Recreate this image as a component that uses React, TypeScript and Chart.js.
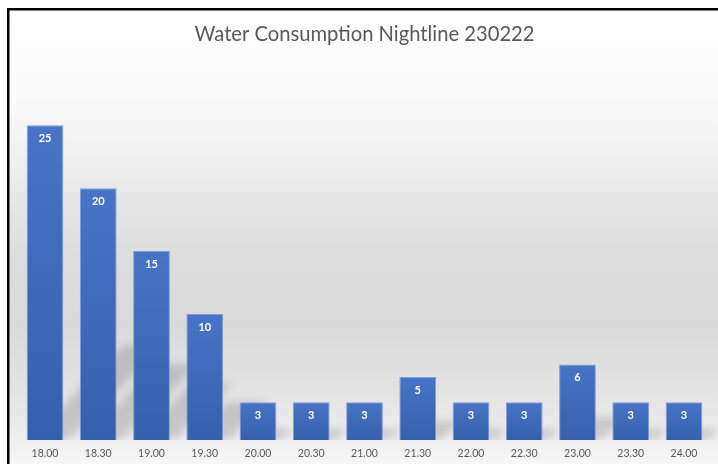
import React, { useEffect, useRef } from "react";
import { Chart, registerables } from "chart.js";

Chart.register(...registerables);

const categories = ["18.00", "18.30", "19.00", "19.30", "20.00", "20.30", "21.00", "21.30", "22.00", "22.30", "23.00", "23.30", "24.00"];
const consumption = [25, 20, 15, 10, 3, 3, 3, 5, 3, 3, 6, 3, 3];
const axisMin = 0;
const axisMax = 30;
const chartTitle = "Water Consumption Nightline 230222";

const FONT = "Lato";

const backgroundPlugin = {
  id: "bgPlugin",
  beforeDraw(chart: any) {
    const { ctx, width, height } = chart;
    ctx.save();
    ctx.fillStyle = "#ffffff";
    ctx.fillRect(0, 0, width, height);
    const g = ctx.createLinearGradient(0, 10, 0, height);
    g.addColorStop(0, "#ffffff");
    g.addColorStop(0.2, "#fafafa");
    g.addColorStop(0.31, "#f1f1f1");
    g.addColorStop(0.42, "#e7e7e7");
    g.addColorStop(0.55, "#dcdcdc");
    g.addColorStop(0.7, "#dadada");
    g.addColorStop(0.86, "#e5e5e5");
    g.addColorStop(0.95, "#efefef");
    g.addColorStop(1, "#f7f7f7");
    ctx.fillStyle = g;
    ctx.fillRect(9, 10, width - 9, height - 10);
    ctx.fillStyle = "#000000";
    ctx.fillRect(7, 8, width - 7, 2.5);
    ctx.fillRect(7, 8, 2.5, height - 8);
    ctx.restore();
  },
};

const shadowPlugin = {
  id: "shadowPlugin",
  beforeDatasetsDraw(chart: any) {
    const meta = chart.getDatasetMeta(0);
    const ctx = chart.ctx;
    const area = chart.chartArea;
    ctx.save();
    ctx.beginPath();
    ctx.rect(0, 0, chart.width, area.bottom);
    ctx.clip();
    ctx.filter = "blur(4px)";
    ctx.fillStyle = "rgba(0,0,0,0.15)";
    meta.data.forEach((bar: any) => {
      const { x, y, base, width } = bar.getProps(["x", "y", "base", "width"], true);
      const h = base - y;
      const sh = h * 0.3;
      const dx = sh;
      const l = x - width / 2;
      const r = x + width / 2;
      ctx.beginPath();
      ctx.moveTo(l + 2, base);
      ctx.lineTo(r + 6, base);
      ctx.lineTo(r + 6 + dx, base - sh);
      ctx.lineTo(l + 2 + dx, base - sh);
      ctx.closePath();
      ctx.fill();
    });
    ctx.restore();
  },
};

const labelPlugin = {
  id: "labelPlugin",
  afterDatasetsDraw(chart: any) {
    const meta = chart.getDatasetMeta(0);
    const ctx = chart.ctx;
    const values = chart.data.datasets[0].data;
    ctx.save();
    ctx.fillStyle = "#ffffff";
    ctx.font = `bold 11px ${FONT}`;
    ctx.textAlign = "center";
    ctx.textBaseline = "middle";
    meta.data.forEach((bar: any, i: number) => {
      const { x, y } = bar.getProps(["x", "y"], true);
      ctx.fillText(String(values[i]), x, y + 13);
    });
    ctx.restore();
  },
};

export default function App() {
  const canvasRef = useRef<HTMLCanvasElement | null>(null);

  useEffect(() => {
    document.body.style.margin = "0";
    const canvas = canvasRef.current;
    if (!canvas) return;
    const chart = new Chart(canvas, {
      type: "bar",
      data: {
        labels: categories,
        datasets: [
          {
            data: consumption,
            barPercentage: 0.69,
            categoryPercentage: 1,
            borderWidth: 1,
            borderColor: "rgba(110,150,220,0.9)",
            backgroundColor: (c: any) => {
              const ch = c.chart;
              if (!ch.chartArea || !ch.scales.y) return "#4472c4";
              const v = c.raw as number;
              const top = ch.scales.y.getPixelForValue(v);
              const bottom = ch.scales.y.getPixelForValue(0);
              const g = ch.ctx.createLinearGradient(0, top, 0, bottom);
              g.addColorStop(0, "#4774c6");
              g.addColorStop(1, "#3560ad");
              return g;
            },
          },
        ],
      },
      options: {
        responsive: false,
        animation: false,
        layout: { padding: { left: 18.4, right: 7.4, top: 0, bottom: 4 } },
        plugins: {
          legend: { display: false },
          tooltip: { enabled: false },
          title: {
            display: true,
            text: chartTitle,
            color: "#595959",
            font: { family: FONT, size: 20.2, weight: "normal" },
            padding: { top: 22, bottom: 16 },
          },
        },
        scales: {
          x: {
            grid: { display: false, drawTicks: false },
            border: { display: false },
            ticks: { color: "#595959", font: { family: FONT, size: 10.5 }, padding: 7.5 },
            afterFit: (s: any) => {
              s.height = 20;
            },
          },
          y: { display: false, min: axisMin, max: axisMax },
        },
      },
      plugins: [backgroundPlugin, shadowPlugin, labelPlugin],
    });
    return () => chart.destroy();
  }, []);

  return (
    <div style={{ position: "absolute", left: 0, top: 0, width: 718, height: 464 }}>
      <canvas ref={canvasRef} width={718} height={464} />
    </div>
  );
}
